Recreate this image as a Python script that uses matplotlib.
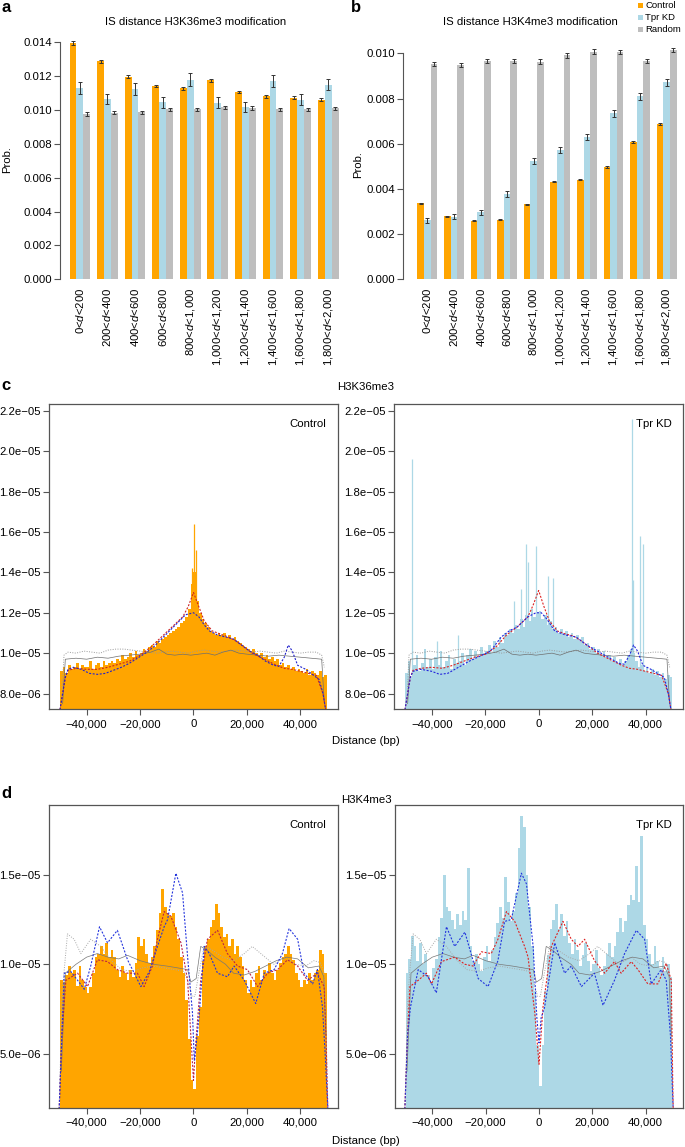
import numpy as np
import matplotlib
matplotlib.use("Agg")
import matplotlib.pyplot as plt
from matplotlib.patches import Rectangle

plt.rcParams['font.family'] = ['Liberation Sans', 'DejaVu Sans']
plt.rcParams['mathtext.fontset'] = 'custom'
plt.rcParams['mathtext.it'] = 'Liberation Sans:italic'
plt.rcParams['mathtext.rm'] = 'Liberation Sans'
plt.rcParams['axes.unicode_minus'] = True

# ---------------- data: panels a / b ----------------
categories = ["0<$d$<200", "200<$d$<400", "400<$d$<600", "600<$d$<800",
              "800<$d$<1,000", "1,000<$d$<1,200", "1,200<$d$<1,400",
              "1,400<$d$<1,600", "1,600<$d$<1,800", "1,800<$d$<2,000"]
series_names = ["Control", "Tpr KD", "Random"]

a_control = [0.01397, 0.01287, 0.01196, 0.01140, 0.01127, 0.01175, 0.01107, 0.01081, 0.01073, 0.01061]
a_tpr     = [0.01130, 0.01066, 0.01124, 0.01046, 0.01178, 0.01042, 0.01020, 0.01172, 0.01062, 0.01149]
a_random  = [0.00977, 0.00984, 0.00986, 0.01004, 0.01004, 0.01016, 0.01012, 0.01004, 0.01004, 0.01010]
a_control_err = [0.00012, 0.00008, 0.00008, 0.00007, 0.00008, 0.00008, 0.00007, 0.00008, 0.00007, 0.00007]
a_tpr_err     = [0.00038, 0.00031, 0.00033, 0.00033, 0.00038, 0.00033, 0.00030, 0.00035, 0.00035, 0.00032]
a_random_err  = [0.00011, 0.00010, 0.00010, 0.00010, 0.00010, 0.00010, 0.00010, 0.00010, 0.00010, 0.00010]

b_control = [0.00336, 0.00278, 0.00259, 0.00264, 0.00332, 0.00432, 0.00441, 0.00497, 0.00609, 0.00689]
b_tpr     = [0.00261, 0.00277, 0.00297, 0.00377, 0.00524, 0.00572, 0.00631, 0.00734, 0.00810, 0.00871]
b_random  = [0.00953, 0.00949, 0.00968, 0.00968, 0.00963, 0.00991, 0.01007, 0.01007, 0.00968, 0.01015]
b_control_err = [0.00003, 0.00003, 0.00003, 0.00003, 0.00003, 0.00003, 0.00003, 0.00003, 0.00004, 0.00004]
b_tpr_err     = [0.00010, 0.00011, 0.00011, 0.00012, 0.00012, 0.00013, 0.00014, 0.00015, 0.00015, 0.00016]
b_random_err  = [0.00009, 0.00009, 0.00009, 0.00009, 0.00010, 0.00010, 0.00010, 0.00009, 0.00009, 0.00009]

a_yticks = [0.000, 0.002, 0.004, 0.006, 0.008, 0.010, 0.012, 0.014]
b_yticks = [0.000, 0.002, 0.004, 0.006, 0.008, 0.010]

# ---------------- data: panels c / d (values in 1e-6) ----------------
bin_start = -50000   # first bin left edge (bp)
bin_width = 1000     # bp

c_control_hist = [
    9.1, 9.3, 9.0, 9.4, 9.2, 9.3, 9.5, 9.2, 9.4, 9.3,
    9.3, 9.6, 9.2, 9.4, 9.5, 9.3, 9.6, 9.4, 9.5, 9.6,
    9.5, 9.7, 9.6, 9.9, 9.7, 9.8, 10.0, 9.8, 10.1, 9.9,
    10.0, 10.2, 10.1, 10.3, 10.4, 10.3, 10.6, 10.5, 10.7, 10.8,
    10.9, 11.0, 11.1, 11.2, 11.3, 11.5, 11.6, 11.8, 12.2, 13.4,
    14.0, 12.6, 12.0, 11.7, 11.5, 11.3, 11.1, 11.0, 10.9, 11.0,
    10.9, 11.0, 10.8, 10.9, 10.7, 10.8, 10.6, 10.5, 10.4, 10.3,
    10.2, 10.1, 10.2, 10.0, 9.9, 10.0, 9.8, 9.9, 9.7, 9.8,
    9.6, 9.7, 9.4, 9.5, 9.3, 9.4, 9.2, 9.3, 9.1, 9.2,
    9.1, 9.0, 9.2, 8.9, 9.1, 9.0, 8.9, 9.1, 8.8, 8.9]
c_control_spike_pos = [200, 1000, -600]
c_control_spike_val = [16.4, 15.1, 14.2]

c_tpr_hist = [
    9.0, 9.6, 8.8, 9.4, 9.9, 9.1, 9.5, 10.2, 9.3, 9.7,
    9.2, 9.8, 9.4, 10.1, 9.3, 9.6, 9.9, 9.2, 9.7, 9.5,
    9.6, 10.0, 9.4, 9.9, 10.2, 9.7, 10.1, 9.8, 10.3, 10.0,
    10.1, 10.4, 10.0, 10.6, 10.3, 10.8, 10.5, 11.0, 10.9, 11.2,
    11.0, 11.4, 11.2, 11.7, 11.3, 11.9, 11.6, 12.2, 11.8, 12.0,
    12.1, 11.7, 11.9, 11.4, 11.6, 11.2, 11.3, 11.0, 11.2, 10.9,
    11.1, 10.8, 11.0, 10.7, 10.9, 10.6, 10.8, 10.4, 10.5, 10.2,
    10.3, 10.0, 10.2, 9.9, 10.1, 9.8, 9.9, 9.6, 9.8, 9.5,
    9.7, 9.4, 9.6, 9.9, 10.2, 10.0, 9.6, 9.3, 9.4, 9.1,
    9.3, 9.0, 9.2, 8.9, 9.1, 8.8, 9.0, 8.7, 8.9, 8.8]
c_tpr_spike_pos = [-47200, -38000, -30000, -9100, -6500, -4700, -4100, -1000, 3400, 5200, 34800, 35200, 38100, 39000]
c_tpr_spike_val = [19.6, 10.6, 10.9, 12.6, 13.2, 15.4, 14.5, 15.3, 13.8, 13.7, 21.6, 13.6, 15.8, 15.4]

d_control_hist = [
    9.1, 9.0, 9.4, 9.9, 9.5, 9.7, 8.8, 9.9, 9.1, 8.75,
    8.4, 8.75, 9.5, 10.4, 10.6, 11.0, 10.6, 11.2, 10.4, 10.8,
    10.4, 9.7, 9.3, 9.9, 9.5, 9.1, 9.7, 9.3, 10.05, 11.5,
    11.0, 11.4, 10.6, 10.05, 10.4, 11.0, 11.9, 12.85, 14.2, 13.2,
    12.85, 12.7, 12.85, 12.1, 11.4, 10.4, 9.5, 8.0, 5.8, 3.5,
    3.0, 6.0, 7.6, 10.2, 11.0, 11.4, 12.1, 12.5, 13.4, 12.85,
    12.1, 11.5, 11.7, 11.0, 11.4, 10.6, 11.0, 10.4, 9.9, 9.1,
    8.4, 9.1, 8.75, 9.5, 9.9, 9.1, 9.7, 9.5, 10.05, 9.5,
    9.1, 9.7, 10.05, 10.4, 10.6, 11.0, 10.6, 10.25, 9.5, 9.1,
    8.75, 9.1, 8.9, 9.5, 9.1, 9.5, 9.7, 10.8, 10.6, 9.5]

d_tpr_hist = [
    9.5, 10.3, 11.6, 11.0, 10.2, 11.2, 10.0, 10.6, 9.4, 9.0,
    9.8, 10.3, 11.5, 12.6, 15.0, 13.2, 13.0, 12.5, 12.0, 12.8,
    12.2, 13.0, 12.5, 15.4, 11.0, 10.2, 10.6, 10.0, 9.6, 10.4,
    11.0, 10.2, 10.8, 11.5, 12.3, 13.2, 12.6, 14.9, 13.5, 12.4,
    13.0, 14.0, 16.5, 18.3, 17.7, 15.0, 13.2, 11.0, 8.5, 5.5,
    3.2, 5.5, 8.5, 10.5, 12.0, 12.5, 13.4, 12.0, 12.8, 11.6,
    12.4, 11.2, 10.6, 11.4, 10.8, 9.9, 10.5, 11.2, 10.2, 9.6,
    10.0, 10.8, 9.8, 9.4, 9.9, 10.6, 11.2, 10.4, 11.0, 11.8,
    12.6, 11.8, 12.4, 13.3, 13.9, 13.6, 15.5, 13.5, 17.2, 12.2,
    11.4, 10.6, 10.0, 11.0, 10.2, 9.8, 10.4, 9.6, 10.0, 9.3]

# smoothed curves: positions in kb, values in 1e-6
c_ctrl_blue_x = [-50, -49, -48, -47, -45, -42, -39, -36, -33, -30, -27, -24, -21, -18, -15, -12, -9, -6, -3, 0, 2, 4, 6, 9, 12, 15, 18, 21, 24, 27, 30, 32, 34, 35.5, 37, 39, 42, 45, 47, 48.5, 49.5]
c_ctrl_blue_y = [7.2, 8.0, 8.8, 9.2, 9.3, 9.2, 9.0, 8.95, 9.0, 9.15, 9.3, 9.5, 9.75, 10.0, 10.3, 10.7, 11.1, 11.5, 11.9, 12.0, 11.8, 11.4, 11.1, 10.9, 10.8, 10.7, 10.4, 10.1, 9.9, 9.6, 9.4, 9.35, 9.8, 10.4, 10.1, 9.4, 9.2, 8.9, 8.7, 8.0, 7.2]
c_ctrl_red_x = [-50, -49, -48, -47, -44, -40, -36, -32, -28, -24, -20, -16, -12, -8, -4, -2, 0, 2, 4, 7, 10, 13, 16, 19, 22, 25, 28, 31, 34, 37, 40, 43, 46, 48.5, 49.5]
c_ctrl_red_y = [7.2, 8.0, 8.8, 9.15, 9.25, 9.2, 9.2, 9.3, 9.45, 9.6, 9.9, 10.3, 10.8, 11.3, 11.8, 12.3, 13.0, 12.3, 11.6, 11.1, 10.95, 10.8, 10.6, 10.3, 10.0, 9.8, 9.6, 9.4, 9.25, 9.2, 9.1, 9.0, 8.9, 8.0, 7.2]
c_tpr_blue_x = [-50, -49, -48, -47, -44, -40, -37, -34, -30, -26, -22, -18, -14, -11, -8, -4, -1, 1, 3, 6, 10, 14, 18, 22, 26, 30, 32, 34, 35.5, 37, 39, 42, 45, 47, 48.5, 49.5]
c_tpr_blue_y = [7.2, 8.0, 8.8, 9.1, 9.2, 9.1, 8.95, 9.0, 9.3, 9.6, 9.85, 10.1, 10.8, 11.1, 11.3, 11.8, 12.0, 12.0, 11.7, 11.1, 10.9, 10.8, 10.4, 10.1, 9.8, 9.5, 9.45, 9.9, 10.4, 10.1, 9.4, 9.2, 8.95, 8.8, 8.0, 7.2]
c_tpr_red_x = [-50, -49, -48, -47, -44, -40, -36, -32, -28, -24, -20, -16, -12, -8, -4, -2, 0, 2, 4, 7, 10, 13, 16, 19, 22, 25, 28, 31, 34, 37, 40, 43, 46, 48.5, 49.5]
c_tpr_red_y = [7.2, 8.0, 8.8, 9.15, 9.25, 9.3, 9.25, 9.4, 9.6, 9.8, 9.95, 10.3, 10.9, 11.3, 11.8, 12.4, 13.1, 12.3, 11.6, 11.1, 10.95, 10.85, 10.6, 10.3, 10.0, 9.8, 9.6, 9.4, 9.25, 9.2, 9.1, 9.0, 8.9, 8.0, 7.2]
c_rand_light_x = [-49.3, -48.5, -47, -44, -41, -38, -35, -32, -29, -26, -23, -20, -17, -14, -11, -8, -5, -2, 1, 4, 7, 10, 13, 16, 19, 22, 25, 28, 31, 34, 37, 40, 43, 46, 48, 49]
c_rand_light_y = [7.6, 9.9, 10.05, 10.0, 10.1, 10.05, 10.0, 10.15, 10.2, 10.2, 10.15, 10.1, 10.05, 10.0, 10.05, 10.1, 10.05, 10.0, 10.1, 10.15, 10.1, 10.05, 10.1, 10.15, 10.1, 10.05, 10.1, 10.05, 10.0, 10.1, 10.05, 10.0, 10.05, 10.05, 9.9, 9.3]
c_rand_dark_x = [-49, -48, -44, -40, -36, -32, -28, -24, -20, -16, -13, -10, -7, -4, -1, 2, 5, 8, 11, 14, 17, 20, 24, 28, 32, 36, 40, 44, 48, 49]
c_rand_dark_y = [7.5, 9.7, 9.75, 9.7, 9.8, 9.75, 9.85, 9.9, 9.95, 10.05, 10.2, 9.95, 9.9, 9.95, 9.9, 9.95, 10.0, 9.9, 10.05, 10.15, 10.0, 9.95, 9.9, 9.85, 9.9, 9.85, 9.8, 9.75, 9.7, 7.5]

d_ctrl_blue_x = [-50.3, -49.3, -48.4, -46, -43.4, -40.9, -38.5, -35.2, -32.2, -28.5, -24.7, -19.7, -16.5, -13.5, -11, -9.7, -6.6, -4.1, -2.2, -0.4, 0.3, 1, 2.1, 4.0, 5.9, 9.0, 12.7, 15.2, 19.0, 23.3, 26.5, 30.2, 33.3, 35.8, 39.0, 41.4, 44.6, 46.4, 48.3, 49.3, 50.3]
d_ctrl_blue_y = [1.9, 6.0, 9.5, 9.6, 9.1, 8.6, 9.9, 12.1, 11.2, 11.9, 10.25, 8.75, 9.6, 11.0, 12.1, 12.5, 15.1, 14.0, 10.4, 7.3, 4.6, 5.5, 7.1, 11.0, 10.6, 9.5, 9.3, 9.9, 9.1, 7.8, 9.5, 9.7, 10.6, 12.0, 11.4, 9.5, 8.9, 9.7, 7.6, 5.0, 1.9]
d_ctrl_red_x = [-50.3, -49.3, -47.8, -43.4, -39.7, -36, -32.2, -28.5, -24.7, -21, -18.5, -15.4, -13.5, -11, -8.5, -4.7, -2.2, -0.8, 0, 0.8, 2.7, 5.2, 9.0, 12.7, 16.5, 20.2, 24, 27.7, 31.5, 35.2, 39, 42.7, 46.4, 48.9, 49.6, 50.3]
d_ctrl_red_y = [1.9, 6.0, 9.1, 9.5, 8.75, 10.25, 10.15, 9.7, 9.5, 9.5, 8.75, 9.9, 11.4, 12.95, 12.7, 11.2, 9.1, 5.5, 3.5, 5.5, 9.1, 11.4, 11.9, 10.6, 9.9, 9.7, 8.75, 9.5, 9.7, 10.25, 9.9, 9.1, 9.5, 8.75, 6.0, 1.9]
d_tpr_blue_x = [-50.3, -49.3, -48.2, -45.3, -41.6, -38.5, -34.7, -31.6, -27.8, -22.8, -19.1, -15.4, -12.9, -10.4, -6.6, -4.7, -2.2, -0.8, 0, 0.8, 2.1, 5.9, 9.6, 12.1, 15.9, 20.8, 24.0, 28.3, 32.1, 36.5, 39.6, 42.1, 45.8, 47.7, 49.3, 50.3]
d_tpr_blue_y = [1.9, 6.0, 7.6, 9.7, 9.3, 8.4, 12.1, 11.0, 11.8, 9.2, 8.75, 10.2, 12.4, 12.5, 15.1, 14.5, 11.0, 7.0, 5.6, 7.0, 7.6, 11.2, 9.5, 9.9, 8.75, 9.5, 7.7, 9.1, 10.6, 11.9, 11.4, 8.9, 9.7, 9.1, 6.0, 1.9]
d_tpr_red_x = [-50.3, -49.3, -48.4, -45.3, -42.2, -40.3, -36.6, -31.6, -27.8, -24.7, -21.6, -17.9, -15.4, -12.2, -9.1, -5.4, -4.1, -1.6, 0, 1.5, 4.6, 9.0, 12.1, 14.6, 17.1, 20.8, 24.6, 28.3, 30.8, 34.6, 37.1, 40.8, 44.6, 47.7, 49.6, 50.3]
d_tpr_red_y = [1.9, 6.0, 8.75, 9.1, 9.5, 8.9, 10.15, 10.4, 10.0, 9.9, 10.7, 10.6, 11.4, 12.95, 12.4, 11.0, 10.4, 7.3, 4.4, 7.6, 11.0, 12.4, 11.4, 11.0, 11.4, 10.2, 9.5, 10.15, 9.5, 10.15, 9.7, 8.9, 8.9, 10.05, 9.1, 1.9]
d_rand_light_x = [-50.3, -49.2, -48.4, -47.2, -44.7, -42.2, -38.5, -34.7, -31, -27, -23, -19, -15, -11, -7, -3.5, -2, -0.5, 0.5, 2, 4, 7, 11, 15, 19, 22, 26, 30, 34.6, 38, 42, 45, 47.5, 48.8, 49.6, 50.3]
d_rand_light_y = [1.9, 8.0, 9.7, 11.7, 11.4, 10.6, 11.4, 11.0, 10.25, 9.7, 9.6, 9.8, 9.9, 9.8, 9.7, 9.6, 9.0, 8.2, 8.2, 9.5, 11.0, 10.8, 10.4, 10.2, 10.6, 11.0, 10.5, 10.0, 10.4, 10.0, 9.9, 10.2, 10.1, 9.6, 7.0, 1.9]
d_rand_dark_x = [-49.5, -48, -44, -40, -36, -32, -28, -24.7, -20, -15, -10, -6, -2.2, -1, 1, 2.7, 5, 8, 12, 15, 19, 23, 27, 31, 35, 39, 43, 47, 48.8, 49.6]
d_rand_dark_y = [4.0, 9.5, 10.0, 10.4, 10.6, 10.4, 10.3, 10.5, 10.2, 10.0, 9.9, 9.8, 9.7, 9.0, 9.2, 11.0, 10.8, 10.4, 10.0, 9.5, 9.4, 9.6, 9.9, 10.2, 10.4, 10.3, 9.8, 9.9, 9.3, 6.0]

c_yticks = [8.0, 10.0, 12.0, 14.0, 16.0, 18.0, 20.0, 22.0]
c_yticklabels = ["8.0e\u221206", "1.0e\u221205", "1.2e\u221205", "1.4e\u221205", "1.6e\u221205", "1.8e\u221205", "2.0e\u221205", "2.2e\u221205"]
d_yticks = [5.0, 10.0, 15.0]
d_yticklabels = ["5.0e\u221206", "1.0e\u221205", "1.5e\u221205"]
dist_ticks = [-40000, -20000, 0, 20000, 40000]
dist_ticklabels = ["\u221240,000", "\u221220,000", "0", "20,000", "40,000"]

# ---------------- styling ----------------
C_ORANGE = "#FFA500"
C_LBLUE = "#ADD8E6"
C_GREY = "#BEBEBE"
FS = 8.2
W, H = 685, 1147
fig = plt.figure(figsize=(W / 100, H / 100), dpi=100)


def ax_px(x0, y0, x1, y1):
    return fig.add_axes([x0 / W, 1 - y1 / H, (x1 - x0) / W, (y1 - y0) / H])


def bar_panel(ax, ctrl, tpr, rnd, errs, ylim, yticks, xlim, title, title_x):
    cols = [C_ORANGE, C_LBLUE, C_GREY]
    for j, (vals, err) in enumerate(zip([ctrl, tpr, rnd], errs)):
        x = np.arange(len(vals)) * 4 + 1 + j
        ax.bar(x, vals, width=1, align='edge', color=cols[j], linewidth=0)
        ax.errorbar(x + 0.5, vals, yerr=err, fmt='none', ecolor='#333333',
                    elinewidth=0.7, capsize=1.6, capthick=0.7)
    ax.set_xlim(*xlim)
    ax.set_ylim(*ylim)
    for s in ['top', 'right', 'bottom']:
        ax.spines[s].set_visible(False)
    ax.spines['left'].set_bounds(yticks[0], yticks[-1])
    ax.spines['left'].set_color('#555555')
    ax.spines['left'].set_linewidth(0.8)
    ax.set_yticks(yticks)
    ax.set_yticklabels([f"{v:.3f}" for v in yticks])
    ax.tick_params(axis='y', direction='out', length=4, width=0.8, color='#555555',
                   labelsize=FS, pad=2)
    centers = np.arange(len(ctrl)) * 4 + 2.5
    ax.set_xticks(centers)
    ax.set_xticklabels(categories, rotation=90, fontsize=FS)
    ax.tick_params(axis='x', length=0, pad=6)
    fig.text(title_x / W, 1 - 22 / H, title, ha='center', va='center', fontsize=FS)


# panel a
axa = ax_px(60, 37.2, 345, 279.3)
bar_panel(axa, a_control, a_tpr, a_random, [a_control_err, a_tpr_err, a_random_err],
          (0, 0.0143), a_yticks, (-0.377, 40.93), "IS distance H3K36me3 modification", 196)
fig.text(7 / W, 1 - 160 / H, "Prob.", rotation=90, ha='center', va='center', fontsize=FS)

# panel b
axb = ax_px(403, 44.3, 682, 279.3)
bar_panel(axb, b_control, b_tpr, b_random, [b_control_err, b_tpr_err, b_random_err],
          (0, 0.0104), b_yticks, (-1.165, 40.8), "IS distance H3K4me3 modification", 530)
fig.text(358 / W, 1 - 165 / H, "Prob.", rotation=90, ha='center', va='center', fontsize=FS)

# legend for b
for k, (name, col) in enumerate(zip(series_names, [C_ORANGE, C_LBLUE, C_GREY])):
    yc = 5 + 12 * k
    fig.add_artist(Rectangle((638 / W, 1 - (yc + 2.5) / H), 5 / W, 5 / H,
                             transform=fig.transFigure, color=col, lw=0))
    fig.text(645 / W, 1 - yc / H, name, ha='left', va='center', fontsize=6.8)

# panel letters
for lab, x, y in [("a", 1, 7), ("b", 351, 7), ("c", 1, 385), ("d", 1, 793)]:
    fig.text(x / W, 1 - y / H, lab, fontsize=12, fontweight='bold', ha='left', va='center')

edges = bin_start + np.arange(100) * bin_width


def dist_panel(ax, hist, color, lines, ylim, yticks, yticklabels, label, spikes=None):
    ax.bar(edges, hist, width=bin_width, align='edge', color=color, linewidth=0)
    if spikes is not None:
        ax.vlines(spikes[0], 0, spikes[1], color=color, lw=0.9)
    for (xs, ys, c, ls, lw) in lines:
        ax.plot(np.array(xs) * 1000, ys, color=c, linestyle=ls, lw=lw)
    ax.set_xlim(-54000, 54000)
    ax.set_ylim(*ylim)
    ax.set_yticks(yticks)
    ax.set_yticklabels(yticklabels)
    ax.set_xticks(dist_ticks)
    ax.set_xticklabels(dist_ticklabels)
    for s in ax.spines.values():
        s.set_color('#555555')
        s.set_linewidth(0.9)
    ax.tick_params(direction='out', length=4, width=0.8, color='#555555', labelsize=FS, pad=2)
    ax.tick_params(axis='x', pad=3)
    ax.text(0.96, 0.935, label, transform=ax.transAxes, ha='right', va='center', fontsize=FS)


BLUE_LS = (0, (1.8, 1.4))
RED_LS = (0, (1.8, 1.4))
GREY_LS = (0, (1, 1.5))

c_rand_lines = [(c_rand_light_x, c_rand_light_y, '#9a9a9a', GREY_LS, 0.7),
                (c_rand_dark_x, c_rand_dark_y, '#6e6e6e', '-', 0.5)]
d_rand_lines = [(d_rand_light_x, d_rand_light_y, '#a8a8a8', GREY_LS, 0.7),
                (d_rand_dark_x, d_rand_dark_y, '#777777', '-', 0.5)]

c_ylim = (7.22, 22.32)
d_ylim = (1.95, 18.92)

axc1 = ax_px(49.3, 404.3, 337.7, 709.3)
dist_panel(axc1, c_control_hist, C_ORANGE,
           c_rand_lines + [(c_ctrl_red_x, c_ctrl_red_y, '#cc2222', RED_LS, 0.8),
                           (c_ctrl_blue_x, c_ctrl_blue_y, '#2222cc', BLUE_LS, 0.8)],
           c_ylim, c_yticks, c_yticklabels, "Control",
           spikes=(c_control_spike_pos, c_control_spike_val))
axc2 = ax_px(394.3, 404.3, 683, 709.3)
dist_panel(axc2, c_tpr_hist, C_LBLUE,
           c_rand_lines + [(c_tpr_red_x, c_tpr_red_y, '#dd2222', RED_LS, 0.8),
                           (c_tpr_blue_x, c_tpr_blue_y, '#2222dd', BLUE_LS, 0.8)],
           c_ylim, c_yticks, c_yticklabels, "Tpr KD",
           spikes=(c_tpr_spike_pos, c_tpr_spike_val))
fig.text(366 / W, 1 - 387 / H, "H3K36me3", ha='center', va='center', fontsize=FS)
fig.text(366 / W, 1 - 741 / H, "Distance (bp)", ha='center', va='center', fontsize=FS)

axd1 = ax_px(49.3, 805, 337.7, 1108)
dist_panel(axd1, d_control_hist, C_ORANGE,
           d_rand_lines + [(d_ctrl_red_x, d_ctrl_red_y, '#bb2244', RED_LS, 0.8),
                           (d_ctrl_blue_x, d_ctrl_blue_y, '#2233dd', BLUE_LS, 0.8)],
           d_ylim, d_yticks, d_yticklabels, "Control")
axd2 = ax_px(395, 805, 683, 1108)
dist_panel(axd2, d_tpr_hist, C_LBLUE,
           d_rand_lines + [(d_tpr_red_x, d_tpr_red_y, '#dd2222', RED_LS, 0.8),
                           (d_tpr_blue_x, d_tpr_blue_y, '#2233dd', BLUE_LS, 0.8)],
           d_ylim, d_yticks, d_yticklabels, "Tpr KD")
fig.text(366 / W, 1 - 800 / H, "H3K4me3", ha='center', va='center', fontsize=FS)
fig.text(366 / W, 1 - 1141 / H, "Distance (bp)", ha='center', va='center', fontsize=FS)

fig.savefig("out.png", dpi=100)
